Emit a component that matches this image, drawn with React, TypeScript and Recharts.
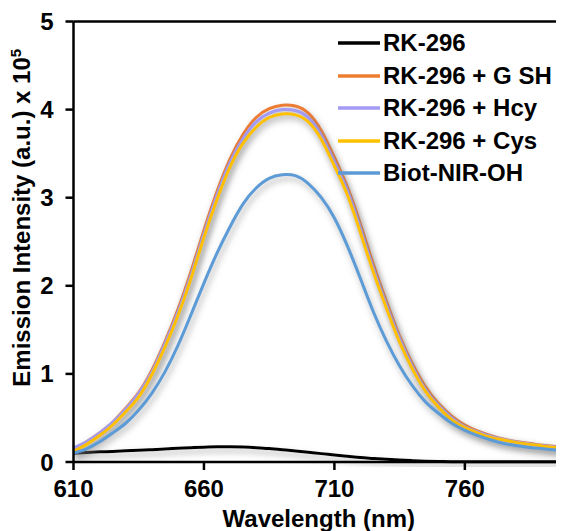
import React from 'react';
import { LineChart, Line, XAxis, YAxis, ReferenceLine, Legend } from 'recharts';

const WAVELENGTHS = [610, 615, 620, 625, 630, 635, 640, 645, 650, 655, 660, 665, 670, 675, 680, 685, 690, 695, 700, 705, 710, 715, 720, 725, 730, 735, 740, 745, 750, 755, 760, 765, 770, 775, 780, 785, 790, 795, 798];

const RK296 = [0.10, 0.108, 0.115, 0.12, 0.127, 0.133, 0.14, 0.148, 0.155, 0.162, 0.168, 0.172, 0.173, 0.17, 0.163, 0.152, 0.14, 0.125, 0.11, 0.095, 0.08, 0.065, 0.05, 0.04, 0.03, 0.022, 0.015, 0.009, 0.005, 0.003, 0.002, 0.002, 0.002, 0.002, 0.002, 0.002, 0.002, 0.002, 0.002];
const GSH = [0.15, 0.23, 0.33, 0.45, 0.61, 0.79, 1.04, 1.36, 1.73, 2.16, 2.63, 3.07, 3.44, 3.72, 3.91, 4.01, 4.05, 4.04, 3.96, 3.76, 3.46, 3.12, 2.70, 2.24, 1.82, 1.43, 1.11, 0.85, 0.66, 0.52, 0.42, 0.35, 0.30, 0.26, 0.23, 0.21, 0.19, 0.175, 0.165];
const HCY = [0.16, 0.23, 0.33, 0.45, 0.60, 0.78, 1.02, 1.34, 1.70, 2.12, 2.59, 3.03, 3.40, 3.67, 3.86, 3.96, 4.00, 3.99, 3.91, 3.71, 3.41, 3.08, 2.65, 2.19, 1.78, 1.40, 1.08, 0.82, 0.64, 0.50, 0.40, 0.34, 0.29, 0.255, 0.225, 0.205, 0.185, 0.17, 0.16];
const CYS = [0.12, 0.20, 0.30, 0.42, 0.57, 0.74, 0.99, 1.30, 1.66, 2.08, 2.55, 2.98, 3.35, 3.62, 3.80, 3.91, 3.95, 3.94, 3.86, 3.66, 3.36, 3.03, 2.60, 2.15, 1.74, 1.36, 1.05, 0.80, 0.62, 0.48, 0.39, 0.33, 0.28, 0.25, 0.22, 0.20, 0.18, 0.165, 0.155];
const BIOT = [0.10, 0.15, 0.23, 0.33, 0.44, 0.59, 0.78, 1.02, 1.32, 1.67, 2.03, 2.37, 2.67, 2.93, 3.11, 3.22, 3.26, 3.25, 3.16, 3.00, 2.77, 2.45, 2.08, 1.70, 1.37, 1.09, 0.86, 0.68, 0.55, 0.44, 0.36, 0.30, 0.25, 0.21, 0.185, 0.165, 0.15, 0.135, 0.13];

const SERIES_NAMES = ['RK-296', 'RK-296 + G SH', 'RK-296 + Hcy', 'RK-296 + Cys', 'Biot-NIR-OH'];
const SERIES_KEYS = ['rk', 'gsh', 'hcy', 'cys', 'biot'];
const SERIES_COLORS = ['#000000', '#ED7D31', '#A39BF5', '#FFC000', '#5B9BD5'];
const SERIES_VALUES = [RK296, GSH, HCY, CYS, BIOT];

const X_TICKS = [610, 660, 710, 760];
const Y_TICKS = [0, 1, 2, 3, 4, 5];

const data = WAVELENGTHS.map((w, i) => {
  const row: Record<string, number> = { w };
  SERIES_KEYS.forEach((k, s) => {
    row[k] = SERIES_VALUES[s][i];
  });
  return row;
});

const FONT = '"Liberation Sans", Arial, sans-serif';

const LegendContent = () => (
  <div style={{ fontFamily: FONT, fontWeight: 700, fontSize: 24, color: '#000' }}>
    {SERIES_NAMES.map((n, i) => (
      <div key={n} style={{ display: 'flex', alignItems: 'center', height: 32.5, whiteSpace: 'nowrap' }}>
        <svg width={42} height={6} style={{ display: 'block' }}>
          <line x1={0} y1={3} x2={42} y2={3} stroke={SERIES_COLORS[i]} strokeWidth={3.5} />
        </svg>
        <span style={{ marginLeft: 3, lineHeight: '32.5px' }}>{n}</span>
      </div>
    ))}
  </div>
);

const YLabel = (props: any) => {
  const vb = props.viewBox || { x: 0, y: 0, width: 0, height: 0 };
  const cx = vb.x + 22;
  const cy = vb.y + vb.height / 2 - 24;
  return (
    <text
      x={cx}
      y={cy}
      transform={`rotate(-90 ${cx} ${cy})`}
      textAnchor="middle"
      fontFamily={FONT}
      fontWeight={700}
      fontSize={24}
      fill="#000"
    >
      Emission Intensity (a.u.) x 10
      <tspan dy={-9} fontSize={15}>5</tspan>
    </text>
  );
};

export default function App() {
  return (
    <div style={{ width: 556, height: 523, position: 'relative' }}>
      <LineChart
        width={556}
        height={523}
        data={data}
        margin={{ top: 13.5, right: 0, left: 0, bottom: 0 }}
      >
        <defs>
          <filter id="lineShadow" x="-10%" y="-10%" width="120%" height="140%">
            <feDropShadow dx={2} dy={4} stdDeviation={3} floodColor="#7a7a7a" floodOpacity={0.6} />
          </filter>
        </defs>
        <XAxis
          dataKey="w"
          type="number"
          domain={[610, 798]}
          ticks={X_TICKS}
          allowDataOverflow
          height={69}
          stroke="#000"
          strokeWidth={2.5}
          tickSize={8}
          tickMargin={10}
          tick={{ fill: '#000', fontSize: 24, fontWeight: 700, fontFamily: FONT }}
          label={{
            value: 'Wavelength (nm)',
            position: 'insideBottom',
            offset: 4,
            fill: '#000',
            fontSize: 24,
            fontWeight: 700,
            fontFamily: FONT,
          }}
        />
        <YAxis
          type="number"
          domain={[0, 5]}
          ticks={Y_TICKS}
          width={65.5}
          stroke="#000"
          strokeWidth={2.5}
          tickSize={8}
          tickMargin={12}
          tick={{ fill: '#000', fontSize: 24, fontWeight: 700, fontFamily: FONT }}
          label={{ content: YLabel }}
        />
        <ReferenceLine y={5} stroke="#000" strokeWidth={2.5} ifOverflow="visible" />
        {SERIES_KEYS.map((k, i) => (
          <Line
            key={k}
            dataKey={k}
            name={SERIES_NAMES[i]}
            type={i === 0 ? 'monotone' : 'natural'}
            stroke={SERIES_COLORS[i]}
            strokeWidth={3}
            dot={false}
            activeDot={false}
            isAnimationActive={false}
            filter="url(#lineShadow)"
          />
        ))}
        <Legend
          layout="vertical"
          align="center"
          verticalAlign="middle"
          content={<LegendContent />}
          wrapperStyle={{ position: 'absolute', top: 19, left: 330, width: 'auto', height: 'auto' }}
        />
      </LineChart>
    </div>
  );
}
